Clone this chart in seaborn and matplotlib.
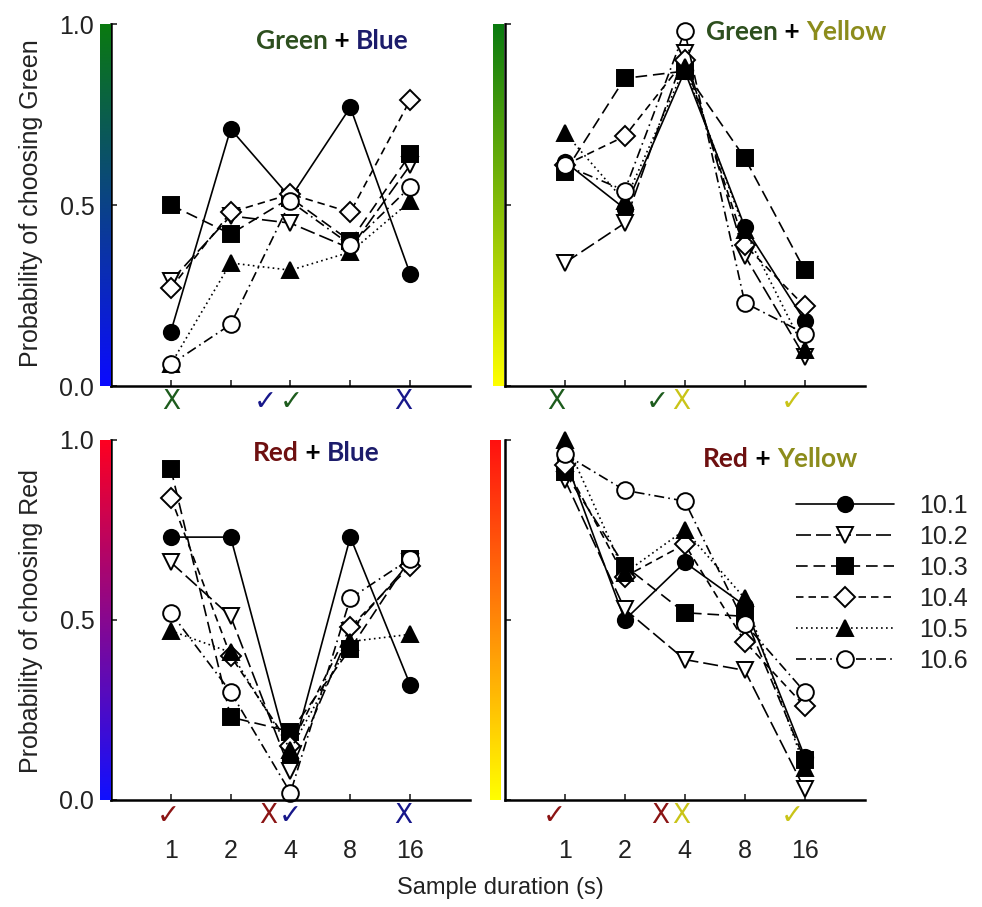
import matplotlib.pyplot as plt
import seaborn as sns
import pandas as pd
import numpy as np
from matplotlib.colors import LinearSegmentedColormap
from matplotlib.ticker import NullLocator, FixedLocator, FixedFormatter

durations = [1, 2, 4, 8, 16]
subjects = ["10.1", "10.2", "10.3", "10.4", "10.5", "10.6"]

# one row per subject, in the order of `subjects`
green_blue = [
    [0.15, 0.71, 0.52, 0.77, 0.31],
    [0.29, 0.47, 0.45, 0.38, 0.61],
    [0.50, 0.42, 0.52, 0.40, 0.64],
    [0.27, 0.48, 0.53, 0.48, 0.79],
    [0.06, 0.34, 0.32, 0.37, 0.51],
    [0.06, 0.17, 0.51, 0.39, 0.55],
]
green_yellow = [
    [0.62, 0.49, 0.87, 0.44, 0.18],
    [0.34, 0.45, 0.92, 0.36, 0.08],
    [0.59, 0.85, 0.87, 0.63, 0.32],
    [0.61, 0.69, 0.90, 0.39, 0.22],
    [0.70, 0.51, 0.88, 0.43, 0.10],
    [0.61, 0.54, 0.98, 0.23, 0.145],
]
red_blue = [
    [0.73, 0.73, 0.11, 0.73, 0.32],
    [0.66, 0.51, 0.08, 0.47, 0.66],
    [0.92, 0.23, 0.19, 0.42, 0.67],
    [0.84, 0.40, 0.15, 0.48, 0.65],
    [0.47, 0.41, 0.14, 0.44, 0.46],
    [0.52, 0.30, 0.02, 0.56, 0.67],
]
red_yellow = [
    [0.95, 0.50, 0.66, 0.54, 0.12],
    [0.89, 0.53, 0.39, 0.36, 0.03],
    [0.91, 0.65, 0.52, 0.51, 0.11],
    [0.93, 0.62, 0.71, 0.44, 0.26],
    [1.00, 0.63, 0.75, 0.56, 0.09],
    [0.96, 0.86, 0.83, 0.49, 0.30],
]

GREEN, BLUE, RED, YELLOW = "#1d5c1d", "#17178a", "#8b1414", "#c9c418"
T_GREEN, T_BLUE, T_RED, T_YELLOW = "#2d4f1e", "#1c1c6b", "#6e1010", "#8c8c1c"

panels = [
    dict(values=green_blue, title=[("Green", T_GREEN), (" + ", "black"), ("Blue", T_BLUE)],
         grad=["#0a7a10", "#0a0aff"], title_xy=(0.405, 0.93),
         marks=[("X", 1.0, GREEN), ("✓", 3.0, BLUE), ("✓", 4.05, GREEN), ("X", 14.7, BLUE)]),
    dict(values=green_yellow, title=[("Green", T_GREEN), (" + ", "black"), ("Yellow", T_YELLOW)],
         grad=["#0a7a10", "#ffff00"], title_xy=(0.56, 0.955),
         marks=[("X", 0.91, GREEN), ("✓", 2.92, GREEN), ("X", 3.85, YELLOW), ("✓", 13.9, YELLOW)]),
    dict(values=red_blue, title=[("Red", T_RED), (" + ", "black"), ("Blue", T_BLUE)],
         grad=["#ff0020", "#1010ff"], title_xy=(0.395, 0.94),
         marks=[("✓", 0.97, RED), ("X", 3.1, RED), ("✓", 4.0, BLUE), ("X", 14.7, BLUE)]),
    dict(values=red_yellow, title=[("Red", T_RED), (" + ", "black"), ("Yellow", T_YELLOW)],
         grad=["#ff1010", "#ffff00"], title_xy=(0.55, 0.925),
         marks=[("✓", 0.89, RED), ("X", 3.0, RED), ("X", 3.85, YELLOW), ("✓", 13.9, YELLOW)]),
]

# line style per subject
markers = ["o", "v", "s", "D", "^", "o"]
filled = [True, False, True, False, True, False]
linestyles = ["-", (0, (9, 3)), (0, (7, 3.5)), (0, (4.5, 3)), (0, (1, 2)), (0, (6, 2.5, 1, 2.5))]
msizes = [11, 11, 11, 10, 12, 12]

sns.set_style("ticks")
plt.rcParams["font.family"] = ["Liberation Sans", "DejaVu Sans"]
TXT = "#222222"

fig = plt.figure(figsize=(9.82, 9.07), dpi=100)
rects = [
    [0.113, 0.5744, 0.3656, 0.3991],
    [0.514, 0.5744, 0.3666, 0.3991],
    [0.113, 0.118, 0.3656, 0.397],
    [0.514, 0.118, 0.3666, 0.397],
]
bar_left = [0.1018, 0.502, 0.1018, 0.499]

for i, (p, rect) in enumerate(zip(panels, rects)):
    ax = fig.add_axes(rect)
    ax.set_xscale("log", base=2)

    rows = []
    for s, vals in zip(subjects, p["values"]):
        for d, v in zip(durations, vals):
            rows.append({"duration": d, "subject": s, "p": v})
    df = pd.DataFrame(rows)

    for j, s in enumerate(subjects):
        sns.lineplot(data=df[df["subject"] == s], x="duration", y="p", ax=ax,
                     color="black", lw=1.2, linestyle=linestyles[j],
                     marker=markers[j], markersize=msizes[j],
                     markerfacecolor="black" if filled[j] else "white",
                     markeredgecolor="black", markeredgewidth=1.4,
                     clip_on=False, label=s, legend=False)

    ax.set_xlim(0.5, 32)
    ax.set_ylim(0, 1)
    ax.xaxis.set_major_locator(FixedLocator(durations))
    ax.xaxis.set_major_formatter(FixedFormatter([str(d) for d in durations]))
    ax.xaxis.set_minor_locator(NullLocator())
    ax.set_yticks([0, 0.5, 1.0])
    ax.set_yticklabels(["0.0", "0.5", "1.0"])
    ax.set_xlabel("")
    ax.set_ylabel("")
    for side in ["top", "right"]:
        ax.spines[side].set_visible(False)
    for side in ["left", "bottom"]:
        ax.spines[side].set_linewidth(1.8)
        ax.spines[side].set_color("black")
    ax.tick_params(direction="in", length=4, width=1.2, labelsize=18, labelcolor=TXT)
    ax.tick_params(axis="y", pad=12, labelleft=(i % 2 == 0))
    ax.tick_params(axis="x", pad=28, labelbottom=(i >= 2))

    # coloured gradient strip next to the y axis
    cax = fig.add_axes([bar_left[i], rect[1], 0.0105, rect[3]])
    cmap = LinearSegmentedColormap.from_list("g", p["grad"][::-1])
    cax.imshow(np.linspace(1, 0, 256)[:, None], aspect="auto", cmap=cmap,
               extent=[0, 1, 0, 1], origin="upper")
    cax.set_axis_off()

    # multi-coloured title
    prev = None
    for word, col in p["title"]:
        if prev is None:
            prev = ax.text(*p["title_xy"], word, transform=ax.transAxes, color=col,
                           fontsize=19, fontweight="bold", family="Lato", va="baseline")
        else:
            prev = ax.annotate(word, xy=(1, 0), xycoords=prev, color=col, fontsize=19,
                               fontweight="bold", family="Lato", va="bottom")

    # correct / incorrect marks under the axis
    for sym, x, col in p["marks"]:
        ax.text(x, -0.045, sym, transform=ax.get_xaxis_transform(), color=col,
                fontsize=19 if sym == "X" else 20, ha="center", va="center",
                family="DejaVu Sans")

    if i == 3:
        h, l = ax.get_legend_handles_labels()
        ax.legend(h, l, loc="upper left", bbox_to_anchor=(0.775, 0.885), frameon=False,
                  fontsize=18, handlelength=3.9, handletextpad=1.0, labelspacing=0.28,
                  borderpad=0, numpoints=1, labelcolor=TXT)

fig.text(0.032, 0.776, "Probability of choosing Green", rotation=90, fontsize=18,
         ha="center", va="center", color=TXT)
fig.text(0.032, 0.315, "Probability of choosing Red", rotation=90, fontsize=18,
         ha="center", va="center", color=TXT)
fig.text(0.51, 0.021, "Sample duration (s)", fontsize=17, ha="center", va="center", color=TXT)

fig.savefig("out.png", dpi=100, facecolor="white")
